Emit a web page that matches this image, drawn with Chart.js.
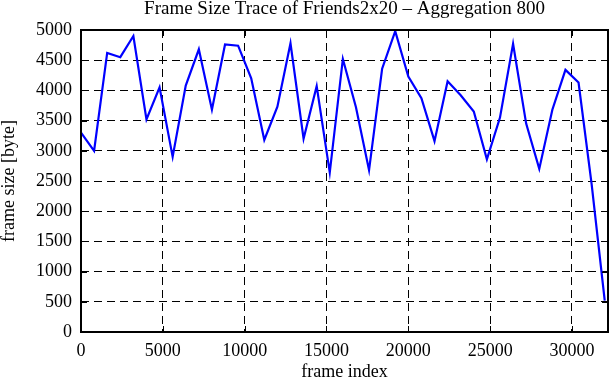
<!DOCTYPE html>
<html>
<head>
<meta charset="utf-8">
<script src="https://cdn.jsdelivr.net/npm/chart.js@4.4.1/dist/chart.umd.min.js"></script>
<style>
  html, body { margin: 0; padding: 0; background: #fff; }
  #grafico { display: block; }
</style>
</head>
<body>
<canvas id="grafico" width="611" height="380"></canvas>
<script>
// dados (agregação de 800 frames)
const frameIndex = [0, 800, 1600, 2400, 3200, 4000, 4800, 5600, 6400, 7200,
    8000, 8800, 9600, 10400, 11200, 12000, 12800, 13600, 14400, 15200,
    16000, 16800, 17600, 18400, 19200, 20000, 20800, 21600, 22400, 23200,
    24000, 24800, 25600, 26400, 27200, 28000, 28800, 29600, 30400, 31200, 32000];
const frameSize = [3300, 3000, 4620, 4550, 4900, 3520, 4050, 2900, 4080, 4680,
    3680, 4760, 4740, 4200, 3180, 3730, 4780, 3200, 4070, 2640,
    4520, 3720, 2680, 4360, 4980, 4230, 3870, 3160, 4150, 3920,
    3650, 2860, 3550, 4770, 3450, 2700, 3680, 4340, 4130, 2450, 520];
const xTicks = [0, 5000, 10000, 15000, 20000, 25000, 30000];
const yTicks = [0, 500, 1000, 1500, 2000, 2500, 3000, 3500, 4000, 4500, 5000];

const titulo = 'Frame Size Trace of Friends2x20 \u2013 Aggregation 800';
const tituloX = 'frame index';
const tituloY = 'frame size [byte]';

const fonteSerif = '"Liberation Serif", "Times New Roman", serif';
Chart.defaults.font.family = fonteSerif;
Chart.defaults.color = '#000';

// moldura, marcas internas e textos (estilo gnuplot)
const molduraPlugin = {
    id: 'moldura',
    afterDatasetsDraw(chart) {
        const { ctx, chartArea: a, scales: { x, y } } = chart;
        ctx.save();
        ctx.strokeStyle = '#000';
        ctx.lineWidth = 1;
        ctx.beginPath();
        xTicks.forEach(v => {
            const px = Math.round(x.getPixelForValue(v)) + 0.5;
            ctx.moveTo(px, a.bottom); ctx.lineTo(px, a.bottom - 6);
            ctx.moveTo(px, a.top); ctx.lineTo(px, a.top + 6);
        });
        yTicks.forEach(v => {
            const py = Math.round(y.getPixelForValue(v)) + 0.5;
            ctx.moveTo(a.left, py); ctx.lineTo(a.left + 6, py);
            ctx.moveTo(a.right, py); ctx.lineTo(a.right - 6, py);
        });
        ctx.stroke();

        ctx.lineWidth = 2;
        ctx.strokeRect(a.left, a.top, a.right - a.left, a.bottom - a.top);

        ctx.fillStyle = '#000';
        ctx.textAlign = 'center';
        ctx.textBaseline = 'alphabetic';
        ctx.font = '19px ' + fonteSerif;
        const centro = (a.left + a.right) / 2;
        ctx.fillText(titulo, centro, 14);
        ctx.font = '18px ' + fonteSerif;
        ctx.fillText(tituloX, centro, 377);

        ctx.translate(14, (a.top + a.bottom) / 2);
        ctx.rotate(-Math.PI / 2);
        ctx.fillText(tituloY, 0, 0);
        ctx.restore();
    }
};

const ctx = document.getElementById('grafico').getContext('2d');
const grafico = new Chart(ctx, {
    type: 'line',
    data: {
        datasets: [{
            data: frameIndex.map((f, i) => ({ x: f, y: frameSize[i] })),
            borderColor: '#0000ff',
            borderWidth: 2.2,
            pointRadius: 0,
            tension: 0,
            fill: false
        }]
    },
    options: {
        responsive: false,
        animation: false,
        layout: { padding: { left: 0, right: 3, top: 30, bottom: 0 } },
        plugins: {
            legend: { display: false },
            title: { display: false },
            tooltip: { enabled: false }
        },
        scales: {
            x: {
                type: 'linear',
                min: 0,
                max: 32200,
                afterBuildTicks: s => { s.ticks = xTicks.map(v => ({ value: v })); },
                afterFit: s => { s.height = 48; },
                grid: { color: '#000', lineWidth: 1, drawTicks: false },
                border: { display: false, dash: [8, 5] },
                ticks: {
                    padding: 8,
                    maxRotation: 0,
                    font: { size: 18 },
                    callback: v => String(v)
                }
            },
            y: {
                min: 0,
                max: 5000,
                afterBuildTicks: s => { s.ticks = yTicks.map(v => ({ value: v })); },
                afterFit: s => { s.width = 81; },
                grid: { color: '#000', lineWidth: 1, drawTicks: false },
                border: { display: false, dash: [8, 5] },
                ticks: {
                    padding: 9,
                    font: { size: 18 },
                    callback: v => String(v)
                }
            }
        }
    },
    plugins: [molduraPlugin]
});
</script>
</body>
</html>
